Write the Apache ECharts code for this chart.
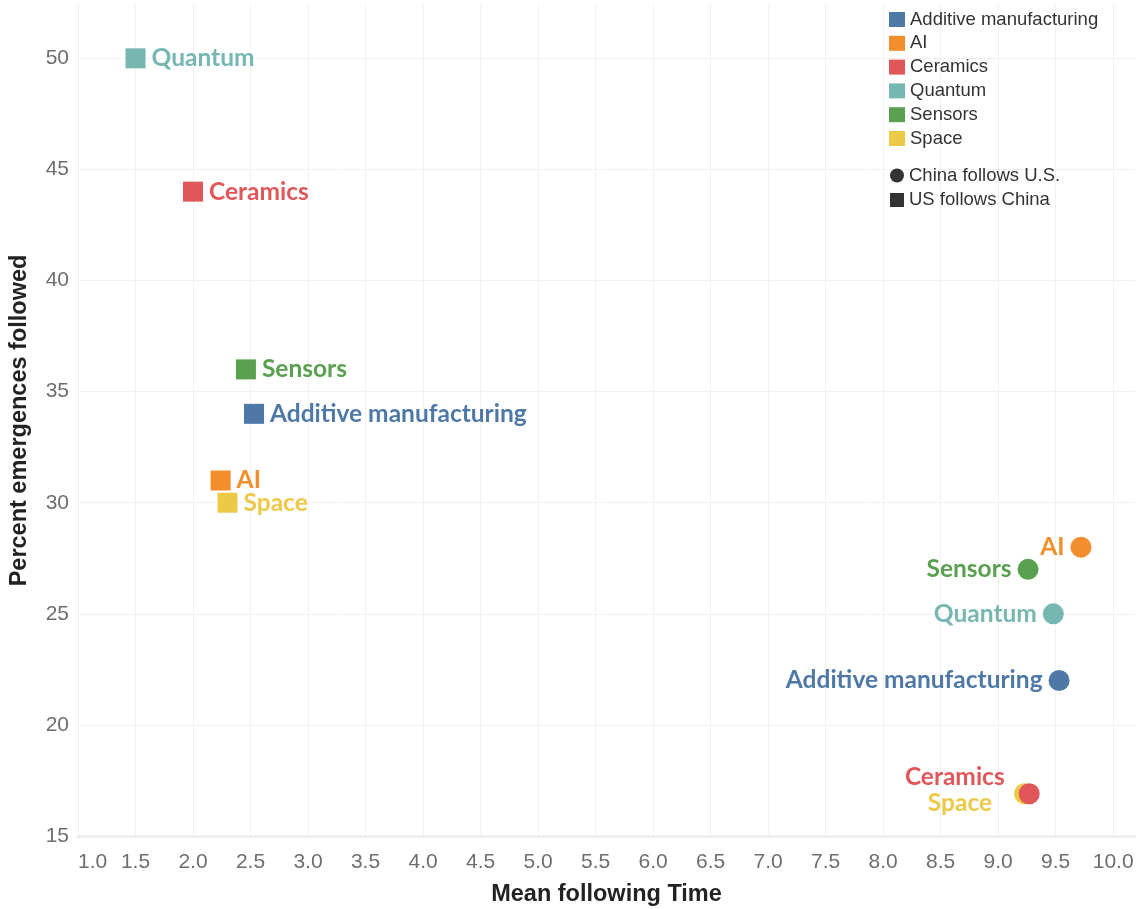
<!DOCTYPE html>
<html>
<head>
<meta charset="utf-8">
<script src="https://cdn.jsdelivr.net/npm/echarts@6/dist/echarts.min.js"></script>
<style>
  html, body { margin: 0; padding: 0; background: #fff; }
  #chart { width: 1139px; height: 909px; }
</style>
</head>
<body>
<div id="chart"></div>
<script>
// 技术领域 + 颜色
var techs = ['Additive manufacturing', 'AI', 'Ceramics', 'Quantum', 'Sensors', 'Space'];
var colors = ['#4e79a7', '#f28e2b', '#e15759', '#76b7b2', '#59a14f', '#edc948'];

// US follows China (方块)
var usX = [2.53, 2.24, 2.0, 1.5, 2.46, 2.3];
var usY = [34, 31, 44, 50, 36, 30];

// China follows U.S. (圆点)
var cnX = [9.53, 9.72, 9.27, 9.48, 9.26, 9.23];
var cnY = [22, 28, 16.9, 25, 27, 16.9];

var labelFont = 'Lato, "Open Sans", sans-serif';
var axisFont = 'Arial, "Liberation Sans", sans-serif';

// 圆点标签偏移, 重叠的 Ceramics / Space 单独处理
var cnLabelOffset = [[0, 0], [0, 0], [-8, -17], [0, 0], [0, 0], [-16, 9]];

var series = [];
// 先画 Space 再画 Ceramics, 让红点盖住黄点
var order = [5, 0, 1, 3, 4, 2];
order.forEach(function (i) {
    series.push({
        name: techs[i],
        type: 'scatter',
        itemStyle: { color: colors[i], opacity: 1 },
        data: [
            {
                value: [usX[i], usY[i]],
                symbol: 'rect',
                symbolSize: 20,
                label: {
                    show: true,
                    position: 'right',
                    distance: 6,
                    formatter: techs[i],
                    color: colors[i],
                    fontFamily: labelFont,
                    fontWeight: 'bold',
                    fontSize: 24.5
                }
            },
            {
                value: [cnX[i], cnY[i]],
                symbol: 'circle',
                symbolSize: 21,
                label: {
                    show: true,
                    position: 'left',
                    distance: 6,
                    offset: cnLabelOffset[i],
                    formatter: techs[i],
                    color: colors[i],
                    fontFamily: labelFont,
                    fontWeight: 'bold',
                    fontSize: 24.5
                }
            }
        ]
    });
});

// 形状图例用的空系列
series.push({ name: 'China follows U.S.', type: 'scatter', itemStyle: { color: '#000' }, data: [] });
series.push({ name: 'US follows China', type: 'scatter', itemStyle: { color: '#000' }, data: [] });

var chart = echarts.init(document.getElementById('chart'));

var legendText = { fontFamily: axisFont, fontSize: 18.5, lineHeight: 18, color: '#333' };

var option = {
    backgroundColor: '#fff',
    animation: false,
    grid: {
        left: 78,
        right: 4,
        top: 5,
        bottom: 73,
        outerBoundsMode: 'none'
    },
    legend: [{
        orient: 'vertical',
        left: 884,
        top: 5,
        itemWidth: 16,
        itemHeight: 15,
        itemGap: 4.8,
        icon: 'rect',
        data: techs,
        textStyle: legendText
    }, {
        orient: 'vertical',
        left: 885,
        top: 161,
        itemWidth: 14,
        itemHeight: 14,
        itemGap: 5.5,
        data: [
            { name: 'China follows U.S.', icon: 'circle' },
            { name: 'US follows China', icon: 'rect' }
        ],
        textStyle: legendText
    }],
    xAxis: {
        type: 'value',
        min: 1,
        max: 10.19,
        interval: 0.5,
        name: 'Mean following Time',
        nameLocation: 'middle',
        nameGap: 47,
        nameTextStyle: { fontFamily: axisFont, fontSize: 23.5, fontWeight: 'bold', color: '#222' },
        axisLine: { show: true, lineStyle: { color: '#eeeeee', width: 3 } },
        axisTick: { show: false },
        axisLabel: {
            showMaxLabel: false,
            alignMinLabel: 'left',
            margin: 16,
            fontFamily: axisFont,
            fontSize: 21,
            color: '#6e6e6e',
            formatter: function (v) { return v.toFixed(1); }
        },
        splitLine: { show: true, showMaxLine: false, lineStyle: { color: '#f1f1f1', width: 1 } }
    },
    yAxis: {
        type: 'value',
        min: 15,
        max: 52.4,
        interval: 5,
        name: 'Percent emergences followed',
        nameLocation: 'middle',
        nameGap: 46,
        nameTextStyle: { fontFamily: axisFont, fontSize: 23.5, fontWeight: 'bold', color: '#222' },
        axisLine: { show: false },
        axisTick: { show: false },
        axisLabel: {
            showMaxLabel: false,
            margin: 9,
            fontFamily: axisFont,
            fontSize: 21,
            color: '#6e6e6e'
        },
        splitLine: { show: true, showMaxLine: false, lineStyle: { color: '#f1f1f1', width: 1 } }
    },
    series: series
};

chart.setOption(option);
</script>
</body>
</html>
